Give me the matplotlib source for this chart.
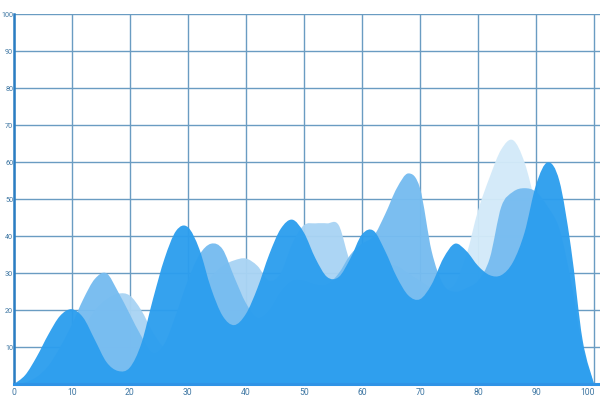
import matplotlib
matplotlib.use("Agg")
import matplotlib.pyplot as plt
import matplotlib.transforms as mtransforms
from matplotlib.path import Path
from matplotlib.patches import PathPatch

# sample positions along the x axis (every 2 units)
x_vals = list(range(0, 101, 2))

# back layer, only the tall peak near 85 shows
pale_vals = [0, 0, 0, 0, 0, 0, 0, 0, 0, 0,
             0, 0, 0, 0, 0, 0, 0, 0, 0, 0,
             0, 0, 0, 0, 0, 0, 0, 0, 0, 0,
             0, 0, 0, 0, 5, 12, 20, 25, 27, 35,
             47, 56, 63.5, 66, 60, 48, 35, 22, 10, 3, 0]

light_vals = [0, 0, 1, 3, 6, 10, 15, 20, 23, 24.5,
              24, 20, 14, 10, 12, 18, 24, 29, 32, 33.5,
              34, 32, 28, 30, 38, 43, 43.5, 43.5, 43, 33,
              30, 30, 32, 32, 30, 28, 26, 25, 24, 24,
              24, 24, 24, 24, 24, 22, 18, 12, 6, 2, 0]

medium_vals = [0, 0.5, 2, 5, 10, 16, 23, 28.5, 30, 25,
               19, 13, 8.5, 11, 19, 28, 35, 38, 36.5, 29,
               22, 18, 20, 25, 28, 28, 27, 27, 30, 35,
               38, 40, 46, 53, 57, 53, 36, 27, 25, 26,
               28, 34, 48, 52, 53, 52, 48, 42, 28, 10, 0]

dark_vals = [0, 2.5, 7.5, 13.5, 18.5, 20.3, 18, 12, 6, 3.6,
             4.5, 11, 23, 34, 41.5, 42.5, 36.5, 26, 18.5, 16,
             19, 26, 35, 42, 44.5, 41, 34, 29, 29, 34,
             40.5, 41.5, 36, 29, 24, 23, 27, 34, 38, 36,
             32, 29.5, 29.5, 33, 41, 54, 60, 55, 37, 12, 0]

x_ticks = [0, 10, 20, 30, 40, 50, 60, 70, 80, 90, 100]
y_ticks = [10, 20, 30, 40, 50, 60, 70, 80, 90, 100]

layers = [
    (pale_vals, "#d3eaf9"),
    (light_vals, "#a9d4f4"),
    (medium_vals, "#76bcf0"),
    (dark_vals, "#2c9eee"),
]


def smooth_area(xs, ys):
    # closed area under a smooth curve that goes through every (x, y)
    verts = [(xs[0], 0), (xs[0], ys[0])]
    codes = [Path.MOVETO, Path.LINETO]
    n = len(xs)
    for i in range(n - 1):
        p0 = (xs[i - 1], ys[i - 1]) if i > 0 else (xs[i], ys[i])
        p1 = (xs[i], ys[i])
        p2 = (xs[i + 1], ys[i + 1])
        p3 = (xs[i + 2], ys[i + 2]) if i + 2 < n else p2
        c1 = (p1[0] + (p2[0] - p0[0]) / 6, p1[1] + (p2[1] - p0[1]) / 6)
        c2 = (p2[0] - (p3[0] - p1[0]) / 6, p2[1] - (p3[1] - p1[1]) / 6)
        verts += [c1, c2, p2]
        codes += [Path.CURVE4] * 3
    verts += [(xs[-1], 0), (xs[0], 0)]
    codes += [Path.LINETO, Path.CLOSEPOLY]
    return Path(verts, codes)


def main():
    plt.rcParams["font.family"] = ["Roboto", "DejaVu Sans"]
    fig = plt.figure(figsize=(6, 4), dpi=100)
    ax = fig.add_axes([13.6 / 600, 15.7 / 400, 586.4 / 600, 370 / 400])

    for vals, col in layers:
        ax.add_patch(PathPatch(smooth_area(x_vals, vals), facecolor=col,
                               edgecolor="none", alpha=0.96, zorder=2))

    ax.set_xlim(0, 101)
    ax.set_ylim(0, 100)
    ax.set_xticks(x_ticks)
    ax.set_yticks(y_ticks)

    ax.grid(True, color="#6a9cc2", linewidth=1.0, zorder=1)
    ax.set_axisbelow(True)

    ax.spines["top"].set_visible(False)
    ax.spines["right"].set_visible(False)
    ax.spines["left"].set_color("#2a7dc2")
    ax.spines["left"].set_linewidth(1.8)
    ax.spines["bottom"].set_color("#2f93e6")
    ax.spines["bottom"].set_linewidth(2.2)
    ax.spines["left"].set_zorder(3)
    ax.spines["bottom"].set_zorder(3)

    ax.tick_params(length=0, labelcolor="#3f77a3")
    ax.tick_params(axis="y", pad=0.3, labelsize=5.2)
    ax.tick_params(axis="x", pad=3, labelsize=6.2)

    # keep the last x label inside the picture
    last = ax.get_xticklabels()[-1]
    last.set_transform(last.get_transform()
                       + mtransforms.ScaledTranslation(-5 / 72, 0, fig.dpi_scale_trans))

    fig.savefig("out.png", dpi=100)


if __name__ == "__main__":
    main()
